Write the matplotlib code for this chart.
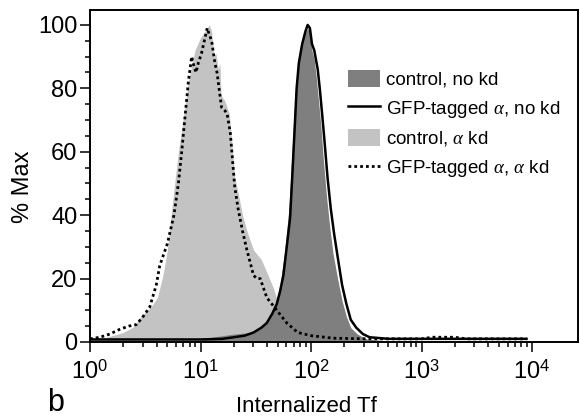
import matplotlib
matplotlib.use("Agg")
import matplotlib.pyplot as plt
from matplotlib.patches import Patch
from matplotlib.lines import Line2D
from matplotlib.ticker import FixedLocator, NullFormatter

plt.rcParams['font.family'] = ['Liberation Sans', 'DejaVu Sans']
plt.rcParams['mathtext.fontset'] = 'custom'
plt.rcParams['mathtext.rm'] = 'Liberation Sans'
plt.rcParams['mathtext.it'] = 'Liberation Serif:italic'

# control, alpha kd (light grey fill)
ctrl_akd_x = [1.0, 1.41, 2.0, 2.45, 2.88, 3.55, 4.07, 4.57, 5.01, 5.62, 6.31, 7.08,
              7.76, 8.91, 10.0, 11.0, 12.0, 12.6, 13.2, 13.8, 14.5, 15.0, 15.3, 16.6,
              18.2, 19.5, 20.4, 21.9, 24.0, 26.3, 30.2, 35.5, 39.8, 45.7, 52.5, 60.3,
              70.8, 89.1, 126, 200, 398, 1000]
ctrl_akd_y = [1.0, 1.5, 3, 4.7, 8, 11, 14, 21, 29, 45, 60, 72,
              82, 92, 96, 98, 100, 98, 90, 91, 86, 88, 78, 76,
              72, 60, 52, 47, 40, 35, 29, 26, 22, 17, 10, 5,
              3, 2, 1, 0.5, 0.3, 0.2]

# GFP-tagged alpha, alpha kd (dotted)
gfp_akd_x = [1.0, 1.23, 1.51, 1.86, 2.24, 2.63, 3.02, 3.47, 3.98, 4.27, 5.01, 5.75,
             6.31, 6.76, 7.24, 7.76, 8.32, 8.71, 9.12, 9.55, 10.2, 11.0, 11.5, 12.0,
             12.6, 13.5, 14.1, 15.5, 16.6, 17.4, 18.6, 20.4, 21.9, 24.0, 26.3, 30.2,
             32.4, 34.7, 39.8, 49.0, 60.3, 75.9, 100, 158, 316, 1000, 1259, 1995,
             2512, 8913]
gfp_akd_y = [1, 1.5, 2.5, 4, 5, 5.5, 8, 11, 18, 24, 31, 40,
             50, 60, 71, 82, 90, 87, 85, 88, 91, 96, 99, 97,
             95, 88, 85, 74, 73, 72, 66, 49, 42, 35, 29, 21,
             20, 20, 14, 10, 6, 3, 2, 1.2, 1, 1, 1.5, 1.5,
             1, 1]

# control, no kd (dark grey fill)
ctrl_nokd_x = [10, 12.6, 20.0, 28.2, 35.5, 41.7, 47.9, 52.5, 57.5, 63.1, 66.1, 69.2,
               72.4, 75.9, 81.3, 87.1, 93.3, 97.7, 102, 107, 112, 117, 123, 129,
               138, 148, 158, 174, 191, 209, 229, 263, 316, 501, 1000]
ctrl_nokd_y = [0.5, 1.5, 2.5, 3, 4.5, 7, 12, 18, 28, 42, 55, 68,
               80, 88, 94, 97, 99, 98, 92, 89, 83, 76, 68, 58,
               46, 36, 28, 20, 13, 8, 4.5, 2.5, 1, 0.3, 0]

# GFP-tagged alpha, no kd (solid)
gfp_nokd_x = [1, 10, 15.8, 20.0, 25.1, 30.2, 35.5, 39.8, 44.7, 49.0, 52.5, 56.2,
              60.3, 64.6, 67.6, 70.8, 74.1, 77.6, 83.2, 89.1, 93.3, 97.7, 102, 107,
              115, 120, 126, 132, 141, 151, 162, 174, 191, 209, 229, 257,
              295, 339, 501, 1000, 3162, 8913]
gfp_nokd_y = [0.8, 0.8, 1, 1.5, 2, 3, 4.5, 6, 9, 12, 16, 21,
              30, 39, 52, 66, 80, 88, 94, 98, 100, 99, 94, 92,
              86, 80, 72, 64, 52, 42, 34, 27, 18, 12, 7, 4.5,
              2.5, 1.5, 1, 1, 1, 1]

labels = ['control, no kd', r'GFP-tagged $\alpha$, no kd',
          r'control, $\alpha$ kd', r'GFP-tagged $\alpha$, $\alpha$ kd']
dark = '#7f7f7f'
light = '#c3c3c3'

fig = plt.figure(figsize=(5.8, 4.17), dpi=100)
ax = fig.add_axes([90 / 580, 1 - 342 / 417, 488 / 580, 332 / 417])

ax.fill_between(ctrl_akd_x, 0, ctrl_akd_y, color=light, lw=0)
ax.fill_between(ctrl_nokd_x, 0, ctrl_nokd_y, color=dark, lw=0)
ax.plot(gfp_akd_x, gfp_akd_y, color='black', lw=2.0, ls=(0, (1, 1.1)))
ax.plot(gfp_nokd_x, gfp_nokd_y, color='black', lw=1.8)

ax.set_xscale('log')
ax.set_xlim(1, 10 ** 4.416)
ax.set_ylim(0, 104.7)

ax.xaxis.set_major_locator(FixedLocator([1, 10, 100, 1000, 10000]))
ax.xaxis.set_minor_locator(FixedLocator([m * 10 ** d for d in range(4) for m in range(2, 10)]))
ax.xaxis.set_minor_formatter(NullFormatter())
ax.set_xticklabels([r'$10^{0}$', r'$10^{1}$', r'$10^{2}$', r'$10^{3}$', r'$10^{4}$'])
ax.set_yticks([0, 20, 40, 60, 80, 100])
ax.yaxis.set_minor_locator(FixedLocator(range(0, 101, 5)))

ax.tick_params(which='major', length=7, width=1.1, labelsize=17, direction='out')
ax.tick_params(which='minor', length=3.6, width=1.1, direction='out')
ax.tick_params(axis='x', which='major', pad=6)
ax.tick_params(axis='y', which='major', pad=2)
for s in ax.spines.values():
    s.set_linewidth(1.4)

handles = [Patch(facecolor=dark, edgecolor='none'),
           Line2D([], [], color='black', lw=1.8),
           Patch(facecolor=light, edgecolor='none'),
           Line2D([], [], color='black', lw=2.0, ls=(0, (1, 1.1)))]
ax.legend(handles, labels, loc='upper left', bbox_to_anchor=(0.528, 0.818),
          frameon=False, fontsize=13.5, handlelength=1.75, handleheight=0.95,
          handletextpad=0.3, labelspacing=0.52, borderpad=0, borderaxespad=0)

fig.text(23 / 580, 1 - 187 / 417, '% Max', rotation=90, fontsize=17,
         ha='center', va='center')
fig.text(306 / 580, 5 / 417, 'Internalized Tf', fontsize=16, ha='center', va='baseline')
fig.text(47 / 580, 6 / 417, 'b', fontsize=22, ha='left', va='baseline')

fig.savefig('out.png', dpi=100)
